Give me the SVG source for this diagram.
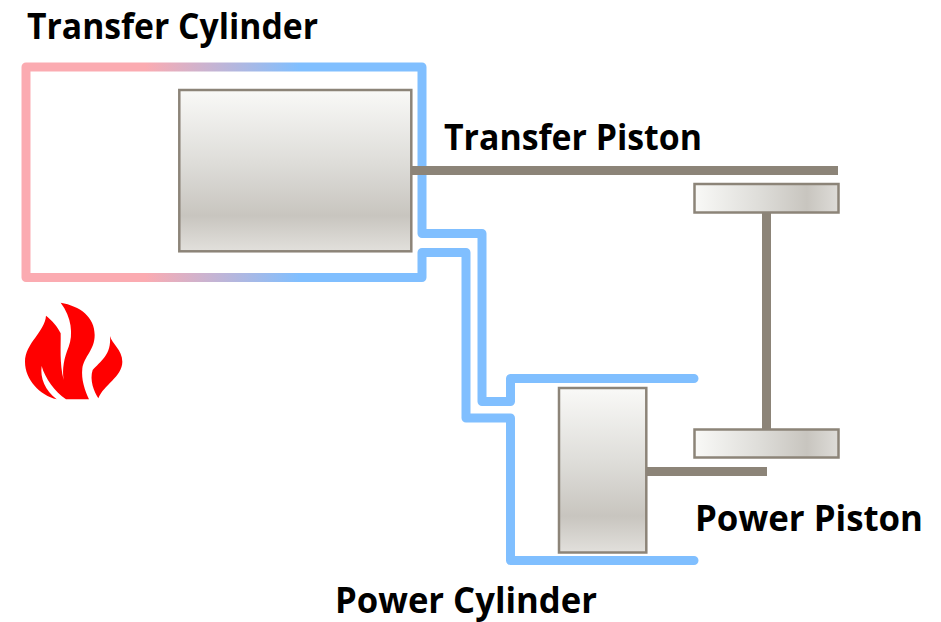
<svg xmlns="http://www.w3.org/2000/svg" width="941" height="622" viewBox="0 0 941 622">
<style>
.lbl{font-family:"Open Sans","Noto Sans","Liberation Sans",sans-serif;font-weight:700;font-size:35px;fill:#000}
.rod{fill:#8C8478}
.box{stroke:#8C8478;stroke-width:2.500}
</style>
<defs>
<linearGradient id="wall" gradientUnits="userSpaceOnUse" x1="145" y1="0" x2="300" y2="0">
<stop offset="0" stop-color="#FBABB1"/><stop offset="1" stop-color="#80BFFF"/>
</linearGradient>
<linearGradient id="vgrad" x1="0" y1="0" x2="0" y2="1">
<stop offset="0" stop-color="#F9F9F7"/><stop offset=".45" stop-color="#DEDDD9"/><stop offset=".78" stop-color="#C8C5BF"/><stop offset="1" stop-color="#E2E0DC"/>
</linearGradient>
<linearGradient id="hgrad" x1="0" y1="0" x2="1" y2="0">
<stop offset="0" stop-color="#F9F9F7"/><stop offset=".45" stop-color="#DEDDD9"/><stop offset=".78" stop-color="#C8C5BF"/><stop offset="1" stop-color="#DEDCD8"/>
</linearGradient>
</defs>
<rect width="941" height="622" fill="#fff"/>
<g id="cylinders">
<path id="cylinder-wall" fill="none" stroke="url(#wall)" stroke-width="9" stroke-linecap="round" stroke-linejoin="round" d="M694 378.500H510.500V401.500H482V233.500H422V67H26V277.500H422V252.500H466V418H510.500V560.500H694"/>
</g>
<g id="connectors">
<rect class="rod" x="412" y="166" width="426" height="9"/>
<rect class="rod" x="762" y="213" width="9" height="216"/>
<rect class="rod" x="647" y="467" width="120" height="9"/>
</g>
<g id="transfer-piston"><rect class="box" x="179.300" y="90" width="232" height="161.300" fill="url(#vgrad)"/></g>
<g id="power-piston"><rect class="box" x="559" y="388" width="87.300" height="164.500" fill="url(#vgrad)"/></g>
<g id="upper-crank"><rect class="box" x="694.500" y="184" width="144" height="28.500" fill="url(#hgrad)"/></g>
<g id="lower-crank"><rect class="box" x="694.500" y="429.500" width="144" height="28" fill="url(#hgrad)"/></g>
<g id="flame" transform="translate(20 300) scale(.33333)" fill="#FF0000">
<path d="M122 8C180 18 224 50 224 105C224 150 192 170 187 205C183 240 195 272 207 298L138 298C105 275 75 235 65 198C60 235 75 270 110 298C60 285 15 240 15 185C15 130 75 95 78 47C95 60 113 80 122 100C123 140 118 190 131 240C126 205 132 175 146 140C160 105 155 50 122 8Z"/>
<path d="M270 108C275 130 307 150 307 185C307 230 250 255 235 295C222 275 208 240 218 210C240 185 275 165 270 108Z"/>
</g>
<g id="labels">
<text class="lbl" x="27" y="39" textLength="291" lengthAdjust="spacingAndGlyphs">Transfer Cylinder</text>
<text class="lbl" x="444" y="150" textLength="258" lengthAdjust="spacingAndGlyphs">Transfer Piston</text>
<text class="lbl" x="695" y="531" textLength="228" lengthAdjust="spacingAndGlyphs">Power Piston</text>
<text class="lbl" x="335" y="613" textLength="262" lengthAdjust="spacingAndGlyphs">Power Cylinder</text>
</g>
</svg>
